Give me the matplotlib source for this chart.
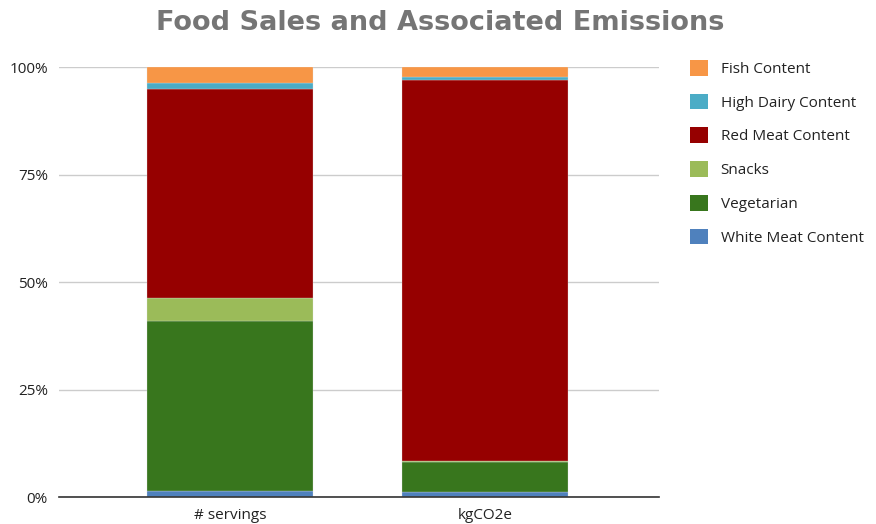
import matplotlib
matplotlib.use('Agg')
import matplotlib.pyplot as plt
from matplotlib.patches import Patch

# categories and stacked share values (%)
categories = ['# servings', 'kgCO2e']
series_names = ['White Meat Content', 'Vegetarian', 'Snacks', 'Red Meat Content',
                'High Dairy Content', 'Fish Content']
white_meat = [1.4, 1.1]
vegetarian = [39.5, 7.0]
snacks = [5.3, 0.2]
red_meat = [48.8, 88.7]
high_dairy = [1.4, 0.8]
fish = [3.6, 2.2]
series_values = [white_meat, vegetarian, snacks, red_meat, high_dairy, fish]
colors = ['#4F81BD', '#38761D', '#9BBB59', '#960000', '#4BACC6', '#F79646']
y_ticks = [0, 25, 50, 75, 100]

plt.rcParams['font.family'] = ['Open Sans', 'DejaVu Sans']

fig = plt.figure(figsize=(8.76, 5.24), dpi=100)
ax = fig.add_axes([0.0674, 0.0515, 0.6846, 0.8205])

x = list(range(len(categories)))
bottom = [0.0] * len(categories)
for name, vals, col in zip(series_names, series_values, colors):
    ax.bar(x, vals, bottom=bottom, width=0.65, color=col, edgecolor='#e0e0e0',
           linewidth=0.2, zorder=3, label=name)
    bottom = [b + v for b, v in zip(bottom, vals)]

ax.set_xlim(-0.67, 1.68)
ax.set_ylim(0, 100)
ax.set_yticks(y_ticks)
ax.set_yticklabels([f'{t}%' for t in y_ticks], fontsize=11, color='#222222')
ax.set_xticks(x)
ax.set_xticklabels(categories, fontsize=11, color='#222222')
ax.tick_params(length=0, pad=8)
ax.grid(axis='y', color='#cccccc', linewidth=1, zorder=0)
for s in ['top', 'right', 'left']:
    ax.spines[s].set_visible(False)
ax.spines['bottom'].set_color('#333333')
ax.spines['bottom'].set_linewidth(1.2)
ax.spines['bottom'].set_zorder(4)

fig.text(0.503, 0.956, 'Food Sales and Associated Emissions', ha='center', va='center',
         fontsize=19.5, fontweight='heavy', color='#757575', family='DejaVu Sans')

handles = [Patch(facecolor=c, edgecolor='none') for c in colors[::-1]]
fig.legend(handles, series_names[::-1], loc='upper left', bbox_to_anchor=(0.772, 0.912),
           frameon=False, fontsize=11, handlelength=1.2, handleheight=1.2,
           labelspacing=1.1, handletextpad=0.8, labelcolor='#222222')

fig.savefig('out.png', dpi=100)
